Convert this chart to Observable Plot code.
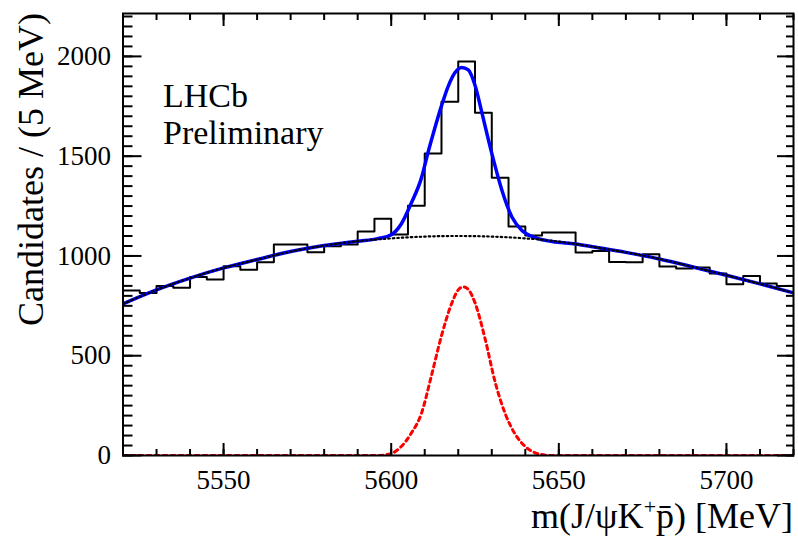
<!DOCTYPE html>
<html><head><meta charset="utf-8">
<script src="https://cdn.jsdelivr.net/npm/d3@7"></script>
<script src="https://cdn.jsdelivr.net/npm/@observablehq/plot@0.6"></script>
<style>
html,body{margin:0;padding:0;background:#fff;}
svg text, svg tspan{font-family:"Liberation Serif", "Times New Roman", serif !important;}
</style></head><body><div id="chart"></div>
<script>
// Histogram: 5 MeV bins from 5520 to 5720
const binStart = 5520;
const binWidth = 5;
const counts = [827, 814, 849, 841, 894, 882, 949, 931, 969, 1058,
                1058, 1019, 1049, 1058, 1122, 1187, 1108, 1252, 1513, 1773,
                1975, 1718, 1392, 1148, 1103, 1117, 1117, 1017, 1025, 970,
                968, 1008, 947, 937, 942, 912, 858, 900, 862, 850];

// Total fit (blue solid)
const totalX = [5520,5530,5540,5550,5560,5570,5580,5590,5596,5600,5603,5606,5609,5611,5613,5615,5617,5619,5621,5623,5625,5627,5629,5631,5633,5636,5639,5643,5648,5655,5660,5670,5680,5690,5700,5710,5720];
const totalY = [760,830,889,940,982,1022,1052,1074,1087,1106,1160,1265,1390,1520,1640,1752,1850,1918,1945,1932,1855,1722,1582,1450,1330,1195,1128,1092,1072,1060,1046,1018,985,945,903,860,815];

// Background (black dotted)
const bgX = [5520,5530,5540,5550,5560,5570,5580,5590,5600,5610,5620,5630,5640,5650,5660,5670,5680,5690,5700,5710,5720];
const bgY = [760,830,889,940,982,1022,1052,1074,1088,1097,1100,1097,1088,1072,1046,1018,985,945,903,860,815];

// Signal (red dashed)
const sigX = [5520,5596,5600,5603,5606,5609,5612,5615,5618,5620,5621.5,5623,5625,5628,5631,5634,5637,5640,5644,5648,5720];
const sigY = [0,0,10,45,112,210,400,600,760,830,845,832,765,585,368,210,106,45,8,0,0];

// Ticks
const xMajor = [5550, 5600, 5650, 5700];
const xMinor = [5520,5530,5540,5550,5560,5570,5580,5590,5600,5610,5620,5630,5640,5650,5660,5670,5680,5690,5700,5710,5720];
const yMajor = [0, 500, 1000, 1500, 2000];
const yMinor = d3.range(0, 2201, 50);

const edges = counts.map((_, i) => binStart + i * binWidth);
const histX = edges.concat([binStart + counts.length * binWidth]);
const histY = counts.concat([counts[counts.length - 1]]);

const font = "Liberation Serif";
const tickStyle = {stroke: "black", strokeWidth: 2, tickFormat: () => "", label: null};

const svg = Plot.plot({
  width: 798, height: 543,
  marginLeft: 122.5, marginRight: 5, marginTop: 13, marginBottom: 88,
  style: {fontFamily: font, fontSize: "27px", color: "black", background: "white"},
  x: {domain: [5520, 5720]},
  y: {domain: [0, 2215]},
  marks: [
    Plot.lineY(histY, {x: histX, curve: "step-after", stroke: "black", strokeWidth: 2, clip: true}),
    Plot.lineY(totalY, {x: totalX, curve: "monotone-x", stroke: "#0000ff", strokeWidth: 3.5, clip: true}),
    Plot.lineY(bgY, {x: bgX, curve: "natural", stroke: "black", strokeWidth: 2.2, strokeDasharray: "1.5,3", clip: true}),
    Plot.lineY(sigY, {x: sigX, curve: "monotone-x", stroke: "#ff0000", strokeWidth: 3, strokeDasharray: "4,4", clip: true}),
    // inward ticks
    Plot.axisX(xMinor, {anchor: "bottom", tickSize: -6, ...tickStyle}),
    Plot.axisX(xMajor, {anchor: "bottom", tickSize: -12, ...tickStyle}),
    Plot.axisX(xMinor, {anchor: "top", tickSize: -6, ...tickStyle}),
    Plot.axisX(xMajor, {anchor: "top", tickSize: -12, ...tickStyle}),
    Plot.axisY(yMinor, {anchor: "left", tickSize: -10, ...tickStyle}),
    Plot.axisY(yMajor, {anchor: "left", tickSize: -19, ...tickStyle}),
    Plot.axisY(yMinor, {anchor: "right", tickSize: -8, ...tickStyle}),
    Plot.axisY(yMajor, {anchor: "right", tickSize: -17, ...tickStyle}),
    // tick labels
    Plot.axisX(xMajor, {anchor: "bottom", tickSize: 0, tickPadding: 14, tickFormat: "d", label: null,
      fill: "black", fontFamily: font, fontSize: 27}),
    Plot.axisY(yMajor, {anchor: "left", tickSize: 0, tickPadding: 12, tickFormat: "d", label: null,
      fill: "black", fontFamily: font, fontSize: 27}),
    Plot.frame({stroke: "black", strokeWidth: 2})
  ]
});

const s = d3.select(svg);

// annotation
s.append("text").attr("x", 163).attr("y", 107).attr("text-anchor", "start")
  .attr("font-size", 34).attr("fill", "black").text("LHCb");
s.append("text").attr("x", 163).attr("y", 144).attr("text-anchor", "start")
  .attr("font-size", 34).attr("fill", "black").text("Preliminary");

s.append("text")
  .attr("transform", "translate(43,13) rotate(-90)")
  .attr("text-anchor", "end")
  .attr("font-size", 36)
  .attr("fill", "black")
  .text("Candidates / (5 MeV)");

const t = s.append("text")
  .attr("x", 793).attr("y", 528)
  .attr("text-anchor", "end")
  .attr("font-size", 36)
  .attr("fill", "black");
t.append("tspan").text("m(J/ψK");
t.append("tspan").attr("font-size", 22).attr("dy", -14).text("+");
t.append("tspan").attr("dy", 14).text("p\u0304");
t.append("tspan").text(") [MeV]");

s.selectAll("text").attr("font-family", font).style("font-family", '"Liberation Serif", serif');

document.getElementById("chart").appendChild(svg);
</script>
</body></html>
